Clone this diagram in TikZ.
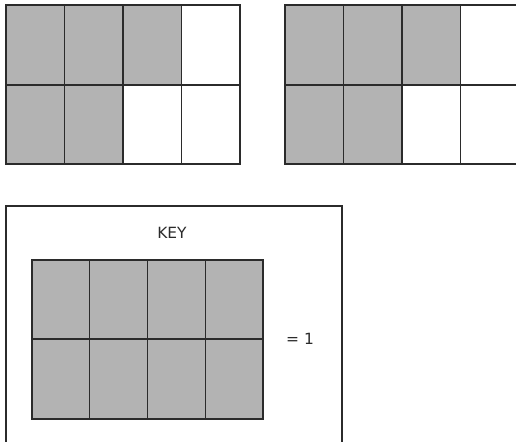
\documentclass[tikz,border=0pt]{standalone}
\usepackage{fontspec}
\setmainfont{DejaVu Sans}
\usepackage{xcolor}
\definecolor{cellgray}{HTML}{B3B3B3}
\definecolor{inkgray}{HTML}{2B2B2B}

\begin{document}
\begin{tikzpicture}[x=1bp, y=-1bp,
    gridline/.style={draw=inkgray, line width=1.4bp},
    frame/.style={draw=inkgray, line width=1.9bp},
    keytext/.style={text=inkgray, font=\fontsize{15.5}{18}\selectfont, inner sep=0pt}]
    \useasboundingbox (0,0) rectangle (516,442);
    \clip (0,0) rectangle (516,442);

    % Left fraction: 5 of 8 parts shaded
    \fill[cellgray] (6,5) rectangle (181.5,85);
    \fill[cellgray] (6,85) rectangle (123,164);
    \foreach \i in {1,2,3}
        \draw[gridline] (6+58.5*\i,5) -- (6+58.5*\i,164);
    \draw[gridline] (6,85) -- (240,85);
    \draw[frame] (6,5) rectangle (240,164);

    % Right fraction: 5 of 8 parts shaded
    \fill[cellgray] (285,5) rectangle (460.5,85);
    \fill[cellgray] (285,85) rectangle (402,164);
    \foreach \i in {1,2,3}
        \draw[gridline] (285+58.5*\i,5) -- (285+58.5*\i,164);
    \draw[gridline] (285,85) -- (519,85);
    \draw[frame] (285,5) rectangle (519,164);

    % Key box
    \draw[gridline] (6,206) rectangle (342,450);
    \node[keytext] (key) at (172,233) {KEY};

    % Whole: all 8 parts shaded
    \fill[cellgray] (32,260) rectangle (263,419);
    \foreach \i in {1,2,3}
        \draw[gridline] (32+57.75*\i,260) -- (32+57.75*\i,419);
    \draw[gridline] (32,339) -- (263,339);
    \draw[frame] (32,260) rectangle (263,419);
    \node[keytext] (one) at (300,339) {= 1};
\end{tikzpicture}
\end{document}
